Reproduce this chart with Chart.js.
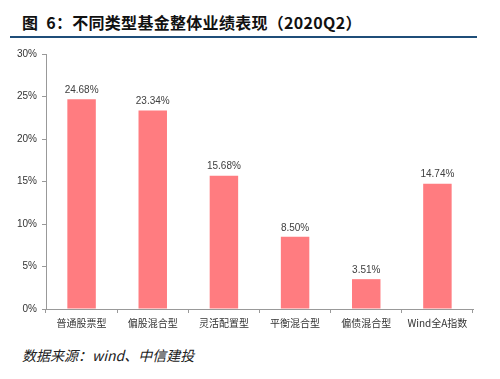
<!DOCTYPE html>
<html lang="zh">
<head>
  <meta charset="UTF-8">
  <title>不同类型基金整体业绩表现</title>
  <script src="https://cdn.jsdelivr.net/npm/chart.js"></script>
  <style>
    body { margin: 0; width: 500px; height: 379px; background: #fff; position: relative; font-family: "Noto Sans CJK SC", sans-serif; overflow: hidden; }
    #titolo { position: absolute; left: 22px; top: 10px; font-size: 16px; font-weight: bold; color: #111; letter-spacing: 0.3px; }
    #riga { position: absolute; left: 10px; top: 36px; width: 467px; height: 2px; background: #1f4e79; }
    #box { position: absolute; left: 0; top: 40px; width: 500px; height: 300px; }
    #fonte { position: absolute; left: 22px; top: 345px; font-size: 14px; font-style: italic; color: #222; }
  </style>
</head>
<body>
  <div id="titolo">图&nbsp; 6：不同类型基金整体业绩表现（2020Q2）</div>
  <div id="riga"></div>
  <div id="box"><canvas id="grafico"></canvas></div>
  <div id="fonte">数据来源：wind、中信建投</div>

  <script>
    // dati
    const categorie = ['普通股票型', '偏股混合型', '灵活配置型', '平衡混合型', '偏债混合型', 'Wind全A指数'];
    const valori = [24.68, 23.34, 15.68, 8.50, 3.51, 14.74];
    const tickY = [0, 5, 10, 15, 20, 25, 30];

    // etichette sopra le barre
    const etichette = {
      id: 'etichette',
      afterDatasetsDraw(chart) {
        const ctx = chart.ctx;
        const meta = chart.getDatasetMeta(0);
        ctx.save();
        ctx.font = '10px "Liberation Sans", sans-serif';
        ctx.fillStyle = '#404040';
        ctx.textAlign = 'center';
        ctx.textBaseline = 'bottom';
        meta.data.forEach((bar, i) => {
          ctx.fillText(valori[i].toFixed(2) + '%', bar.x, bar.y - 4);
        });
        ctx.restore();
      }
    };

    const ctx = document.getElementById('grafico').getContext('2d');
    new Chart(ctx, {
      type: 'bar',
      data: {
        labels: categorie,
        datasets: [{
          data: valori,
          backgroundColor: '#ff7c80',
          barPercentage: 0.4,
          categoryPercentage: 1.0
        }]
      },
      options: {
        responsive: true,
        maintainAspectRatio: false,
        animation: false,
        layout: { padding: { top: 14, right: 27, left: 0, bottom: 0 } },
        plugins: {
          legend: { display: false },
          tooltip: { enabled: false }
        },
        scales: {
          x: {
            grid: { drawOnChartArea: false, color: '#999', tickLength: 4, offset: true },
            border: { color: '#999' },
            ticks: {
              color: '#333',
              font: { size: 10, family: '"Noto Sans CJK SC", sans-serif' },
              maxRotation: 0,
              padding: 4
            },
            afterFit(scale) { scale.height = 31; }
          },
          y: {
            min: 0,
            max: 30,
            afterBuildTicks(scale) { scale.ticks = tickY.map(v => ({ value: v })); },
            grid: { drawOnChartArea: false, color: '#999', tickLength: 4 },
            border: { color: '#999' },
            ticks: {
              color: '#333',
              font: { size: 10, family: '"Liberation Sans", sans-serif' },
              padding: 5,
              callback: v => v + '%'
            },
            afterFit(scale) { scale.width = 46; }
          }
        }
      },
      plugins: [etichette]
    });
  </script>
</body>
</html>
